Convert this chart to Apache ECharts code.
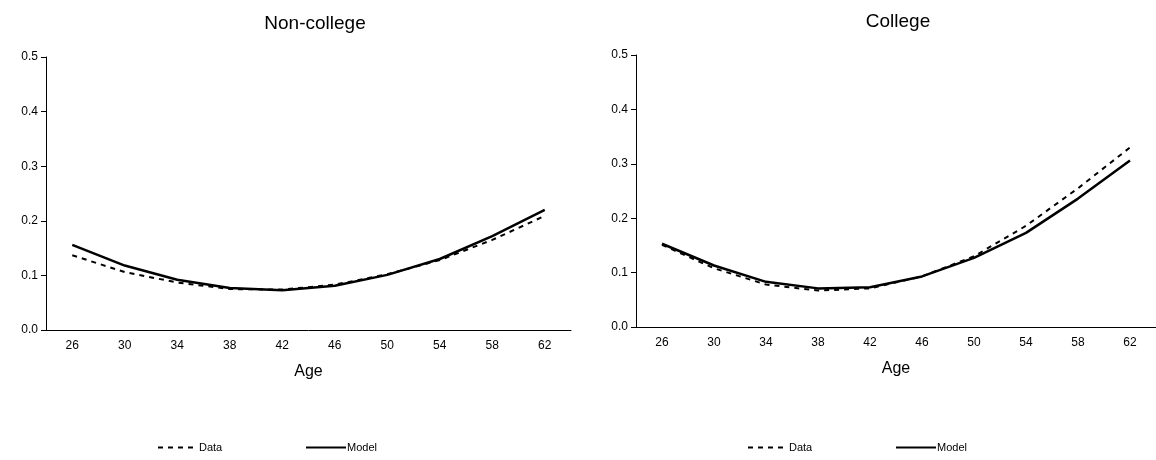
<!DOCTYPE html>
<html>
<head>
<meta charset="utf-8">
<script src="https://cdn.jsdelivr.net/npm/echarts@6/dist/echarts.min.js"></script>
<style>html,body{margin:0;padding:0;background:#fff}#chart{width:1156px;height:460px}</style>
</head>
<body>
<div id="chart"></div>
<script>
var ages = ['26','30','34','38','42','46','50','54','58','62'];
var yTicks = [0, 0.1, 0.2, 0.3, 0.4, 0.5];
// Non-college
var ncData = [0.137,0.106,0.087,0.075,0.074,0.083,0.102,0.128,0.165,0.209];
var ncModel = [0.156,0.118,0.092,0.077,0.073,0.081,0.101,0.130,0.172,0.220];
// College
var cData = [0.151,0.108,0.078,0.067,0.071,0.093,0.130,0.186,0.255,0.330];
var cModel = [0.153,0.113,0.083,0.071,0.073,0.093,0.127,0.173,0.236,0.306];

var chart = echarts.init(document.getElementById('chart'));
var font = 'Arial, Liberation Sans, sans-serif';

function xAxis(i){
    return {
        type:'category', gridIndex:i, data:ages, boundaryGap:true,
        name:'Age', nameLocation:'middle', nameGap:34,
        nameTextStyle:{color:'#000',fontSize:16,fontFamily:font},
        axisLine:{lineStyle:{color:'#000'}},
        axisTick:{lineStyle:{color:'#000'},length:5},
        axisLabel:{color:'#000',fontSize:12,fontFamily:font,margin:10},
        splitLine:{show:false}
    };
}
function yAxis(i){
    return {
        type:'value', gridIndex:i, min:0, max:0.5, interval:0.1,
        axisLine:{show:true,lineStyle:{color:'#000'}},
        axisTick:{show:true,length:5,lineStyle:{color:'#000'}},
        axisLabel:{color:'#000',fontSize:12,fontFamily:font,
            formatter:function(v){return v.toFixed(1);}},
        splitLine:{show:false}
    };
}
function line(name,i,data,dashed){
    return {
        name:name, type:'line', xAxisIndex:i, yAxisIndex:i, data:data,
        symbol:'none', smooth:false,
        lineStyle:{color:'#000',width:dashed?2:2.5,type:dashed?[5,5]:'solid'}
    };
}
function legend(x,name){
    return {left:x,top:437,itemWidth:40,itemHeight:10,itemGap:0,
        data:[{name:name,itemStyle:{opacity:0}}],
        textStyle:{fontSize:11,fontFamily:font,color:'#000',padding:[0,0,0,-4]}};
}

chart.setOption({
    animation:false,
    title:[
        {text:'Non-college',left:310,top:9,textAlign:'center',textStyle:{fontSize:19,fontWeight:'normal',color:'#000',fontFamily:font}},
        {text:'College',left:893,top:7,textAlign:'center',textStyle:{fontSize:19,fontWeight:'normal',color:'#000',fontFamily:font}}
    ],
    legend:[
        legend(152,'Data'),
        legend(300,'Model'),
        legend(742,'Data '),
        legend(890,'Model ')
    ],
    grid:[
        {left:46,right:1156-571,top:57,bottom:460-330},
        {left:636,right:0,top:55,bottom:460-327}
    ],
    xAxis:[xAxis(0),xAxis(1)],
    yAxis:[yAxis(0),yAxis(1)],
    series:[
        line('Data',0,ncData,true),
        line('Model',0,ncModel,false),
        line('Data ',1,cData,true),
        line('Model ',1,cModel,false)
    ]
});
</script>
</body>
</html>
